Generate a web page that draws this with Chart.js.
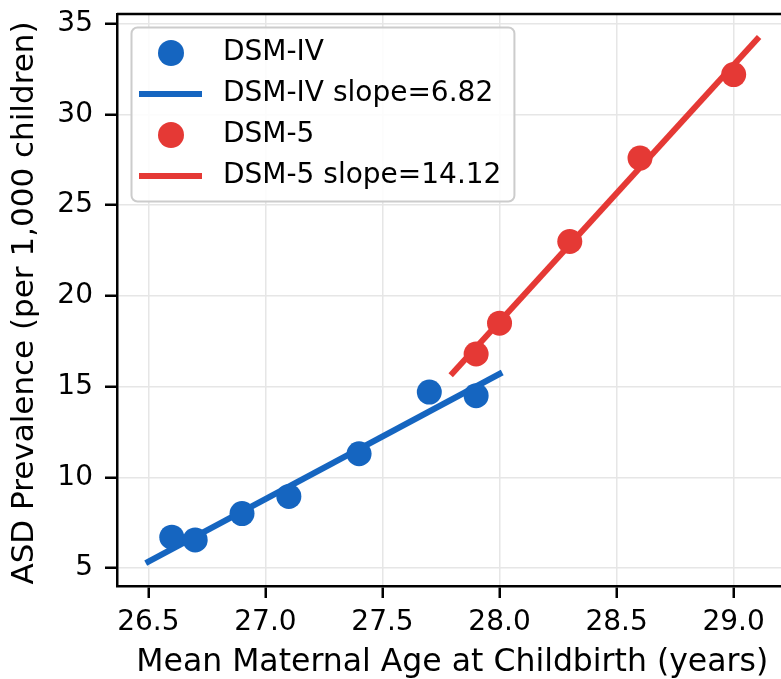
<!DOCTYPE html>
<html>
<head>
<meta charset="utf-8">
<script src="https://cdn.jsdelivr.net/npm/chart.js@4.4.1/dist/chart.umd.min.js"></script>
<style>
  html, body { margin: 0; padding: 0; background: #fff; overflow: hidden; }
  canvas { display: block; }
</style>
</head>
<body>
<canvas id="grafico" width="800" height="679"></canvas>
<script>
// valores
const idadeDsm4 = [26.6, 26.7, 26.9, 27.1, 27.4, 27.7, 27.9]
const prevDsm4 = [6.7, 6.55, 8.0, 8.95, 11.3, 14.7, 14.5]
const idadeDsm5 = [27.9, 28.0, 28.3, 28.6, 29.0]
const prevDsm5 = [16.8, 18.5, 23.0, 27.6, 32.2]

// retas de ajuste (pontas)
const idadeRetaDsm4 = [26.5, 28.0]
const prevRetaDsm4 = [5.35, 15.7]
const idadeRetaDsm5 = [27.8, 29.1]
const prevRetaDsm5 = [15.75, 34.15]

const rotulos = ['DSM-IV', 'DSM-IV slope=6.82', 'DSM-5', 'DSM-5 slope=14.12']
const ticksX = [26.5, 27.0, 27.5, 28.0, 28.5, 29.0]
const ticksY = [5, 10, 15, 20, 25, 30, 35]
const tituloY = 'ASD Prevalence (per 1,000 children)'

const azul = '#1565C0'
const vermelho = '#E53935'
const fonte = 'DejaVu Sans'

function pares(xs, ys) {
  var lista = []
  for (var i = 0; i < xs.length; i++) {
    lista.push({ x: xs[i], y: ys[i] })
  }
  return lista
}

// moldura de cima / direita + titulo do eixo y
const moldura = {
  id: 'moldura',
  afterDraw(chart) {
    const { ctx, chartArea: a } = chart
    ctx.save()
    ctx.strokeStyle = '#000'
    ctx.lineWidth = 2.5
    ctx.beginPath()
    ctx.moveTo(a.left, a.top)
    ctx.lineTo(a.right, a.top)
    ctx.lineTo(a.right, a.bottom)
    ctx.stroke()

    ctx.translate(24.5, (a.top + a.bottom) / 2 + 3)
    ctx.rotate(-Math.PI / 2)
    ctx.font = '31px "' + fonte + '"'
    ctx.fillStyle = '#000'
    ctx.textAlign = 'center'
    ctx.textBaseline = 'middle'
    ctx.fillText(tituloY, 0, 0)
    ctx.restore()
  }
}

// legenda dentro da area do grafico
const legendaInterna = {
  id: 'legendaInterna',
  afterDatasetsDraw(chart) {
    const { ctx, chartArea: a } = chart
    const ds = chart.data.datasets
    ctx.save()
    ctx.font = '28px "' + fonte + '"'
    var maior = 0
    for (var i = 0; i < ds.length; i++) {
      maior = Math.max(maior, ctx.measureText(ds[i].label).width)
    }
    const x0 = a.left + 14.5
    const y0 = a.top + 13.5
    const textoX = x0 + 91.5
    const w = textoX - x0 + maior + 13
    const h = 174
    ctx.beginPath()
    ctx.roundRect(x0, y0, w, h, 6)
    ctx.fillStyle = 'rgba(255,255,255,0.85)'
    ctx.fill()
    ctx.strokeStyle = '#cccccc'
    ctx.lineWidth = 2
    ctx.stroke()

    for (var i = 0; i < ds.length; i++) {
      const yy = y0 + 25.5 + i * 41
      ctx.fillStyle = ds[i].backgroundColor
      ctx.strokeStyle = ds[i].borderColor
      if (ds[i].showLine) {
        ctx.lineWidth = 6
        ctx.lineCap = 'butt'
        ctx.beginPath()
        ctx.moveTo(x0 + 7.5, yy)
        ctx.lineTo(x0 + 70.5, yy)
        ctx.stroke()
      } else {
        ctx.beginPath()
        ctx.arc(x0 + 39.5, yy, 13, 0, Math.PI * 2)
        ctx.fill()
      }
      ctx.fillStyle = '#000'
      ctx.textBaseline = 'middle'
      ctx.textAlign = 'left'
      ctx.fillText(ds[i].label, textoX, yy)
    }
    ctx.restore()
  }
}

new Chart(document.getElementById('grafico'), {
  type: 'scatter',
  data: {
    datasets: [
      {
        label: rotulos[0],
        data: pares(idadeDsm4, prevDsm4),
        backgroundColor: azul,
        borderColor: azul,
        pointRadius: 12.5,
        pointHoverRadius: 12.5,
        borderWidth: 0,
        showLine: false
      },
      {
        label: rotulos[1],
        data: pares(idadeRetaDsm4, prevRetaDsm4),
        backgroundColor: azul,
        borderColor: azul,
        borderWidth: 6,
        borderCapStyle: 'square',
        pointRadius: 0,
        showLine: true
      },
      {
        label: rotulos[2],
        data: pares(idadeDsm5, prevDsm5),
        backgroundColor: vermelho,
        borderColor: vermelho,
        pointRadius: 12.5,
        pointHoverRadius: 12.5,
        borderWidth: 0,
        showLine: false
      },
      {
        label: rotulos[3],
        data: pares(idadeRetaDsm5, prevRetaDsm5),
        backgroundColor: vermelho,
        borderColor: vermelho,
        borderWidth: 6,
        borderCapStyle: 'square',
        pointRadius: 0,
        showLine: true
      }
    ]
  },
  options: {
    responsive: false,
    animation: false,
    layout: { padding: { top: 14, right: 7, bottom: 0, left: 0 } },
    plugins: {
      legend: { display: false },
      tooltip: { enabled: false }
    },
    scales: {
      x: {
        type: 'linear',
        min: 26.366,
        max: 29.23,
        afterBuildTicks(scale) {
          scale.ticks = ticksX.map(v => ({ value: v }))
        },
        afterFit(scale) {
          scale.height = 93
          scale.paddingLeft = 0
          scale.paddingRight = 0
        },
        ticks: {
          color: '#000',
          font: { family: fonte, size: 28, lineHeight: 1 },
          padding: 11,
          maxRotation: 0,
          autoSkip: false,
          callback: v => Number(v).toFixed(1)
        },
        grid: {
          color: '#e6e6e6',
          lineWidth: 1.5,
          tickLength: 12,
          tickColor: '#000',
          tickWidth: 2.5
        },
        border: { color: '#000', width: 2.5 },
        title: {
          display: true,
          text: 'Mean Maternal Age at Childbirth (years)',
          color: '#000',
          font: { family: fonte, size: 31.5, lineHeight: 1 },
          padding: { top: 0, bottom: 0 }
        }
      },
      y: {
        type: 'linear',
        min: 4.01,
        max: 35.54,
        afterBuildTicks(scale) {
          scale.ticks = ticksY.map(v => ({ value: v }))
        },
        afterFit(scale) {
          scale.width = 117
          scale.paddingTop = 0
          scale.paddingBottom = 0
        },
        ticks: {
          color: '#000',
          font: { family: fonte, size: 28, lineHeight: 1 },
          padding: 12,
          autoSkip: false
        },
        grid: {
          color: '#e6e6e6',
          lineWidth: 1.5,
          tickLength: 12,
          tickColor: '#000',
          tickWidth: 2.5
        },
        border: { color: '#000', width: 2.5 }
      }
    }
  },
  plugins: [moldura, legendaInterna]
})
</script>
</body>
</html>
